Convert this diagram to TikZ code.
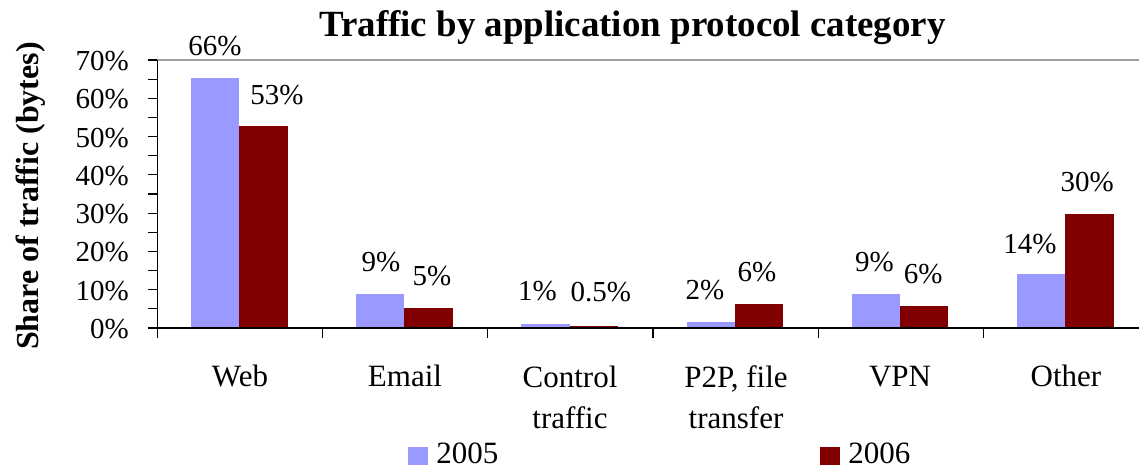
\documentclass[tikz,border=0pt]{standalone}
\usepackage{fontspec}
\setmainfont{Liberation Serif}
\definecolor{barA}{RGB}{153,153,255}
\definecolor{barB}{RGB}{128,0,0}
\definecolor{frameg}{RGB}{160,160,160}
\begin{document}
\begin{tikzpicture}[x=0.75pt,y=-0.75pt,
  ticklab/.style={font=\fontsize{21.75}{26}\selectfont, inner sep=0pt, anchor=base east},
  dlabel/.style={font=\fontsize{21.75}{26}\selectfont, inner sep=0pt, anchor=base},
  catlabel/.style={font=\fontsize{23.25}{30.75}\selectfont, inner sep=0pt, anchor=base, align=center},
  leglabel/.style={font=\fontsize{23.25}{28}\selectfont, inner sep=0pt, anchor=base west},
  axisline/.style={black, line width=1.1pt},
  tickline/.style={black, line width=0.9pt}]
\useasboundingbox (0,0) rectangle (1139,468);
% bars
\foreach \i/\a/\b in {0/65.3/52.7, 1/8.9/5.2, 2/1.0/0.5, 3/1.5/6.3, 4/8.9/5.8, 5/14.1/29.8}{
  \fill[barA] ({190.9+165.2*\i},328) rectangle ({239.2+165.2*\i},{328-3.829*\a});
  \fill[barB] ({239.2+165.2*\i},328) rectangle ({287.5+165.2*\i},{328-3.829*\b});
}
% frame top
\draw[frameg, line width=1.1pt] (157.3,60) -- (1139,60);
% axes
\draw[axisline] (157.3,60) -- (157.3,328) -- (1139,328);
\foreach \v in {0,...,14}{
  \draw[tickline] (147.7,{328-19.145*\v}) -- (157.3,{328-19.145*\v});
}
\foreach \i in {0,...,5}{
  \draw[tickline] ({157.3+165.2*\i},328) -- ({157.3+165.2*\i},338);
}
% tick labels
\foreach \k/\t in {0/0,1/10,2/20,3/30,4/40,5/50,6/60,7/70}{
  \node[ticklab] (t\k) at (129,{338.5-38.29*\k}) {\t\%};
}
% data labels
\node[dlabel] (l1) at (215,55) {66\%};
\node[dlabel] (l2) at (277,104) {53\%};
\node[dlabel] (l3) at (381,271.7) {9\%};
\node[dlabel] (l4) at (432,285) {5\%};
\node[dlabel] (l5) at (537.5,300) {1\%};
\node[dlabel] (l6) at (600.8,301.7) {0.5\%};
\node[dlabel] (l7) at (705,299) {2\%};
\node[dlabel] (l8) at (757,281) {6\%};
\node[dlabel] (l9) at (874.5,271.7) {9\%};
\node[dlabel] (l10) at (923.3,283.3) {6\%};
\node[dlabel] (l11) at (1030,253.3) {14\%};
\node[dlabel] (l12) at (1087.3,191.7) {30\%};
% category labels
\node[catlabel] (c1) at (240,386.7) {Web};
\node[catlabel] (c2) at (405,386.7) {Email};
\node[catlabel] (c3) at (570,428) {Control\\traffic};
\node[catlabel] (c4) at (736,428) {P2P, file\\transfer};
\node[catlabel] (c5) at (900,386.7) {VPN};
\node[catlabel] (c6) at (1066,386.7) {Other};
% legend
\fill[barA] (408,447) rectangle (428,465);
\node[leglabel] (g1) at (436,463) {2005};
\fill[barB] (820,447) rectangle (840,465);
\node[leglabel] (g2) at (848,463) {2006};
% titles
\node[font=\bfseries\fontsize{27.7}{33}\selectfont, inner sep=0pt, anchor=base] (title) at (632.5,36) {Traffic by application protocol category};
\node[rotate=90, anchor=base, inner sep=0pt, font=\bfseries\fontsize{24}{28}\selectfont] (ylab) at (38,196) {Share of traffic (bytes)};
\end{tikzpicture}
\end{document}
